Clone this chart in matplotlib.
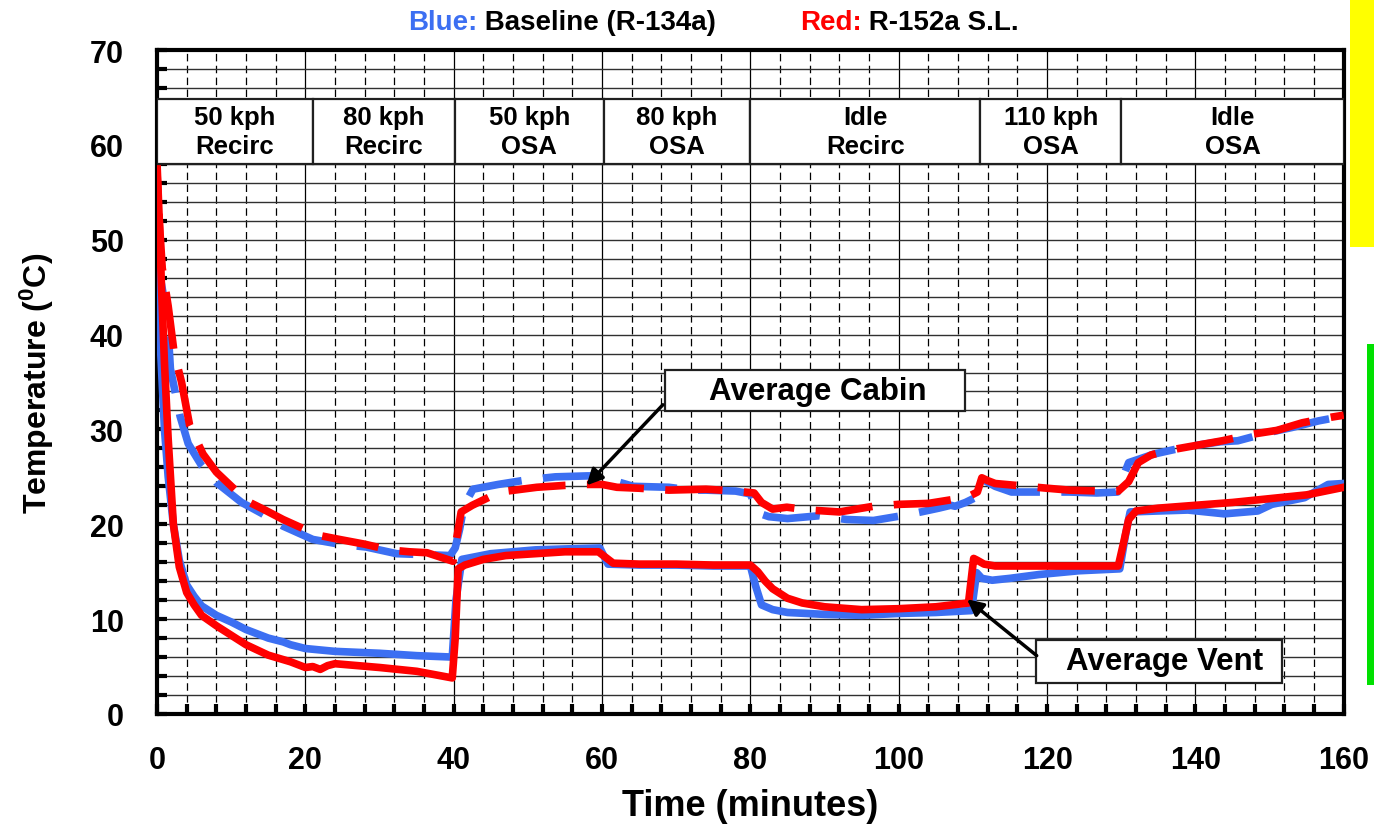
import numpy as np
import matplotlib
matplotlib.use('Agg')  # sin pantalla
import matplotlib.pyplot as plt
from matplotlib.patches import Rectangle
from matplotlib.ticker import MultipleLocator

plt.rcParams['font.family'] = ['Liberation Sans', 'DejaVu Sans']
plt.rcParams['font.weight'] = 'bold'
plt.rcParams['mathtext.fontset'] = 'custom'
plt.rcParams['mathtext.rm'] = 'Liberation Sans:bold'
plt.rcParams['mathtext.bf'] = 'Liberation Sans:bold'

AZUL = '#3c6ff2'
ROJO = '#ff0000'

# --- Ventilación promedio, R-152a (rojo) ---
t_vent_152 = [0, 0.3, 0.6, 1.0, 1.5, 2.2, 3, 4, 5, 6, 8, 10, 12, 15, 18, 20, 21, 22,
              23, 24, 27, 30, 35, 39.8, 40.2, 40.6, 41.5, 44, 47, 51, 55, 59.5, 60.5,
              61.5, 65, 70, 75, 80, 81, 82, 83, 85, 87, 90, 95, 100, 105, 109.4,
              110.1, 110.6, 111.5, 113, 120, 125, 129.6, 130.3, 131, 132, 135, 140,
              145, 150, 155, 160]
T_vent_152 = [58, 52, 45, 37, 29, 20, 15.5, 12.8, 11.5, 10.4, 9.3, 8.3, 7.3, 6.2, 5.5,
              4.9, 5.0, 4.7, 5.1, 5.3, 5.1, 4.9, 4.5, 3.8, 8, 15.3, 15.7, 16.3, 16.7,
              16.9, 17.1, 17.1, 16.5, 15.9, 15.8, 15.8, 15.7, 15.7, 15.0, 14.0, 13.2,
              12.2, 11.7, 11.3, 11.0, 11.1, 11.3, 11.7, 16.4, 16.2, 15.8, 15.6, 15.6,
              15.6, 15.6, 18.0, 20.5, 21.4, 21.7, 22.0, 22.3, 22.7, 23.1, 23.9]

# --- Ventilación promedio, R-134a (azul) ---
t_vent_134 = [0, 0.5, 1, 1.5, 2.2, 3, 4, 5, 6, 8, 10, 12, 15, 17, 18, 20, 24, 30, 35,
              39.8, 40.3, 41.1, 45, 51, 55, 59.7, 60.8, 65, 70, 75, 80, 80.7, 81.5, 83,
              85, 90, 95, 100, 105, 109.8, 110.5, 111.2, 112.6, 115, 118.9, 124.3,
              129.8, 130.6, 131.2, 135, 139, 143.9, 148.4, 150.3, 154.7, 157.9, 160]
T_vent_134 = [48, 38, 30, 25, 20, 16.2, 13.6, 12.4, 11.4, 10.4, 9.7, 8.9, 8.0, 7.6, 7.3,
              6.9, 6.6, 6.4, 6.15, 6.0, 12, 16.3, 16.9, 17.3, 17.4, 17.5, 15.8, 15.7,
              15.7, 15.6, 15.6, 13.5, 11.5, 11.0, 10.7, 10.5, 10.4, 10.6, 10.7, 10.9,
              14.9, 14.3, 14.1, 14.3, 14.7, 15.1, 15.3, 19, 21.3, 21.4, 21.5, 21.1,
              21.4, 22.1, 22.8, 24.2, 24.3]

# --- Cabina promedio, R-152a (rojo) ---
t_cab_152 = [0, 0.3, 0.7, 1.5, 2.3, 3.3, 4.4, 6.2, 8, 10.7, 12.5, 14.3, 17, 20.4, 22,
             24.6, 28, 31.3, 34, 36.4, 39.9, 40.3, 41, 42.5, 46.2, 51.2, 55, 57.9, 60,
             62, 65, 69, 74, 78, 80.5, 81.5, 83, 84.9, 88, 92, 96.6, 100, 104, 107.2,
             109.6, 110.6, 111.2, 112, 113, 115.8, 120, 123, 127.4, 129.6, 131, 132.3,
             134, 136.4, 140, 143.6, 147.7, 151, 154.4, 158.4, 160]
T_cab_152 = [57, 52, 47, 43, 38.1, 35, 30.4, 27.4, 25.5, 23.5, 22.3, 21.6, 20.5, 19.3,
             18.8, 18.4, 17.9, 17.3, 17.1, 17.0, 16.1, 18.1, 21.3, 22.0, 23.4, 23.9,
             24.1, 24.2, 24.2, 23.9, 23.8, 23.6, 23.7, 23.5, 23.3, 22.3, 21.6, 21.8,
             21.5, 21.3, 21.9, 22.1, 22.2, 22.6, 23.0, 23.4, 24.9, 24.6, 24.3, 24.1,
             23.8, 23.6, 23.5, 23.5, 24.5, 26.5, 27.3, 27.8, 28.3, 28.8, 29.5, 29.9,
             30.7, 31.3, 31.5]

# --- Cabina promedio, R-134a (azul) ---
t_cab_134 = [0, 0.8, 1.3, 1.8, 3.1, 4.2, 6, 8, 11.4, 14, 17, 21, 24.6, 28.2, 32.3, 36,
             39.5, 40.2, 40.8, 41.4, 42.6, 46, 50, 53.7, 58, 60.3, 62, 64.2, 69, 72,
             74, 78, 80, 81, 82.5, 85, 89.3, 93, 96.6, 100.4, 103, 105.4, 107, 107.6,
             109, 110.3, 111.6, 113, 115.2, 119, 123, 126.7, 129.5, 130, 131, 134.4,
             139, 143.4, 145.7, 150, 153, 156.6, 160]
T_cab_134 = [48, 44.4, 43, 36.4, 31.4, 28.5, 26.2, 24.4, 22.3, 21.2, 19.8, 18.4, 17.9,
             17.6, 16.9, 16.8, 16.7, 17.5, 19.5, 22, 23.7, 24.2, 24.7, 25.0, 25.1,
             25.1, 24.5, 24.0, 23.9, 23.6, 23.6, 23.5, 23.2, 21.2, 20.8, 20.6, 20.9,
             20.5, 20.4, 20.9, 21.3, 21.7, 22.0, 21.9, 22.3, 22.8, 24.6, 24.0, 23.4,
             23.4, 23.4, 23.3, 23.4, 24.5, 26.5, 27.4, 28.2, 28.7, 28.8, 29.7, 30.2,
             30.9, 31.4]

# Fases del ensayo (límites en minutos) y sus rótulos
fases_lim = [0, 21, 40.2, 60.2, 80, 111, 130, 160]
fases_txt = ['50 kph\nRecirc', '80 kph\nRecirc', '50 kph\nOSA', '80 kph\nOSA',
             'Idle\nRecirc', '110 kph\nOSA', 'Idle\nOSA']

fig = plt.figure(figsize=(13.74, 8.28), dpi=100)
ax = fig.add_axes([0.1143, 0.1365, 0.8637, 0.8019])

# curvas: cabina discontinua, ventilación continua
ax.plot(t_cab_134, T_cab_134, color=AZUL, lw=5.5, ls=(0, (7.5, 2.8)), zorder=3)
ax.plot(t_cab_152, T_cab_152, color=ROJO, lw=5.5, ls=(5, (7.5, 2.8)), zorder=3.1)
ax.plot(t_vent_134, T_vent_134, color=AZUL, lw=5.5, zorder=3)
ax.plot(t_vent_152, T_vent_152, color=ROJO, lw=5.5, zorder=3.1)

ax.set_xlim(0, 160)
ax.set_ylim(0, 70)
ax.xaxis.set_major_locator(MultipleLocator(20))
ax.xaxis.set_minor_locator(MultipleLocator(4))
ax.yaxis.set_major_locator(MultipleLocator(10))
ax.yaxis.set_minor_locator(MultipleLocator(2))

ax.grid(True, which='both', axis='y', color='#303030', lw=1.0)
ax.grid(True, which='major', axis='x', color='k', lw=0.9)
ax.grid(True, which='minor', axis='x', color='k', lw=0.9, ls=(0, (6, 3.5)))

ax.tick_params(which='both', direction='in', width=3, length=7, labelsize=22)
ax.tick_params(axis='x', pad=22)
ax.tick_params(axis='y', pad=24)
for s in ax.spines.values():
    s.set_linewidth(3)

ax.set_xlabel('Time (minutes)', fontsize=26, fontweight='bold', labelpad=10)
ax.set_ylabel(r'Temperature ($\mathbf{^0}$C)', fontsize=23, fontweight='bold', labelpad=24)

# tabla de fases sobre el gráfico
y0, y1 = 58.0, 64.8
for i, txt in enumerate(fases_txt):
    a, b = fases_lim[i], fases_lim[i + 1]
    ax.add_patch(Rectangle((a, y0), b - a, y1 - y0, facecolor='white',
                           edgecolor='#202020', lw=1.6, zorder=5))
    ax.text((a + b) / 2, (y0 + y1) / 2, txt, ha='center', va='center',
            fontsize=18.5, fontweight='bold', linespacing=1.25, zorder=6)

# rótulos con flecha
def rotulo(texto, caja, cx, cy, punta, cola):
    x0, x1, yb, yt = caja
    ax.add_patch(Rectangle((x0, yb), x1 - x0, yt - yb, facecolor='white',
                           edgecolor='#202020', lw=1.6, zorder=7))
    ax.text(cx, cy, texto, ha='center', va='center', fontsize=22.5,
            fontweight='bold', zorder=8)
    ax.annotate('', xy=punta, xytext=cola, zorder=8,
                arrowprops=dict(arrowstyle='-|>', color='k', lw=2.5,
                                mutation_scale=24, shrinkA=0, shrinkB=0))

rotulo('Average Cabin', (68.5, 108.9, 31.9, 36.3), 89.1, 34.1, (57.9, 24.1), (68.2, 32.6))
rotulo('Average Vent', (118.5, 151.7, 3.3, 7.8), 135.8, 5.6, (109.2, 12.1), (118.6, 6.15))

# leyenda en texto de colores
t1 = fig.text(0.297, 0.972, 'Blue:', color=AZUL, fontsize=20, fontweight='bold', va='center')
ax.annotate(' Baseline (R-134a)', xy=(1, 0.5), xycoords=t1, va='center', ha='left',
            fontsize=20, fontweight='bold', color='k', annotation_clip=False)
t2 = fig.text(0.582, 0.972, 'Red:', color=ROJO, fontsize=20, fontweight='bold', va='center')
ax.annotate(' R-152a S.L.', xy=(1, 0.5), xycoords=t2, va='center', ha='left',
            fontsize=20, fontweight='bold', color='k', annotation_clip=False)

# barras de color en el borde derecho
fig.patches.append(Rectangle((0.9825, 0.700), 0.0175, 0.300, transform=fig.transFigure,
                             facecolor='#ffff00', edgecolor='none', figure=fig))
fig.patches.append(Rectangle((0.9948, 0.1715), 0.0052, 0.4118, transform=fig.transFigure,
                             facecolor='#00e000', edgecolor='none', figure=fig))

fig.savefig('out.png', dpi=100)
plt.close(fig)
